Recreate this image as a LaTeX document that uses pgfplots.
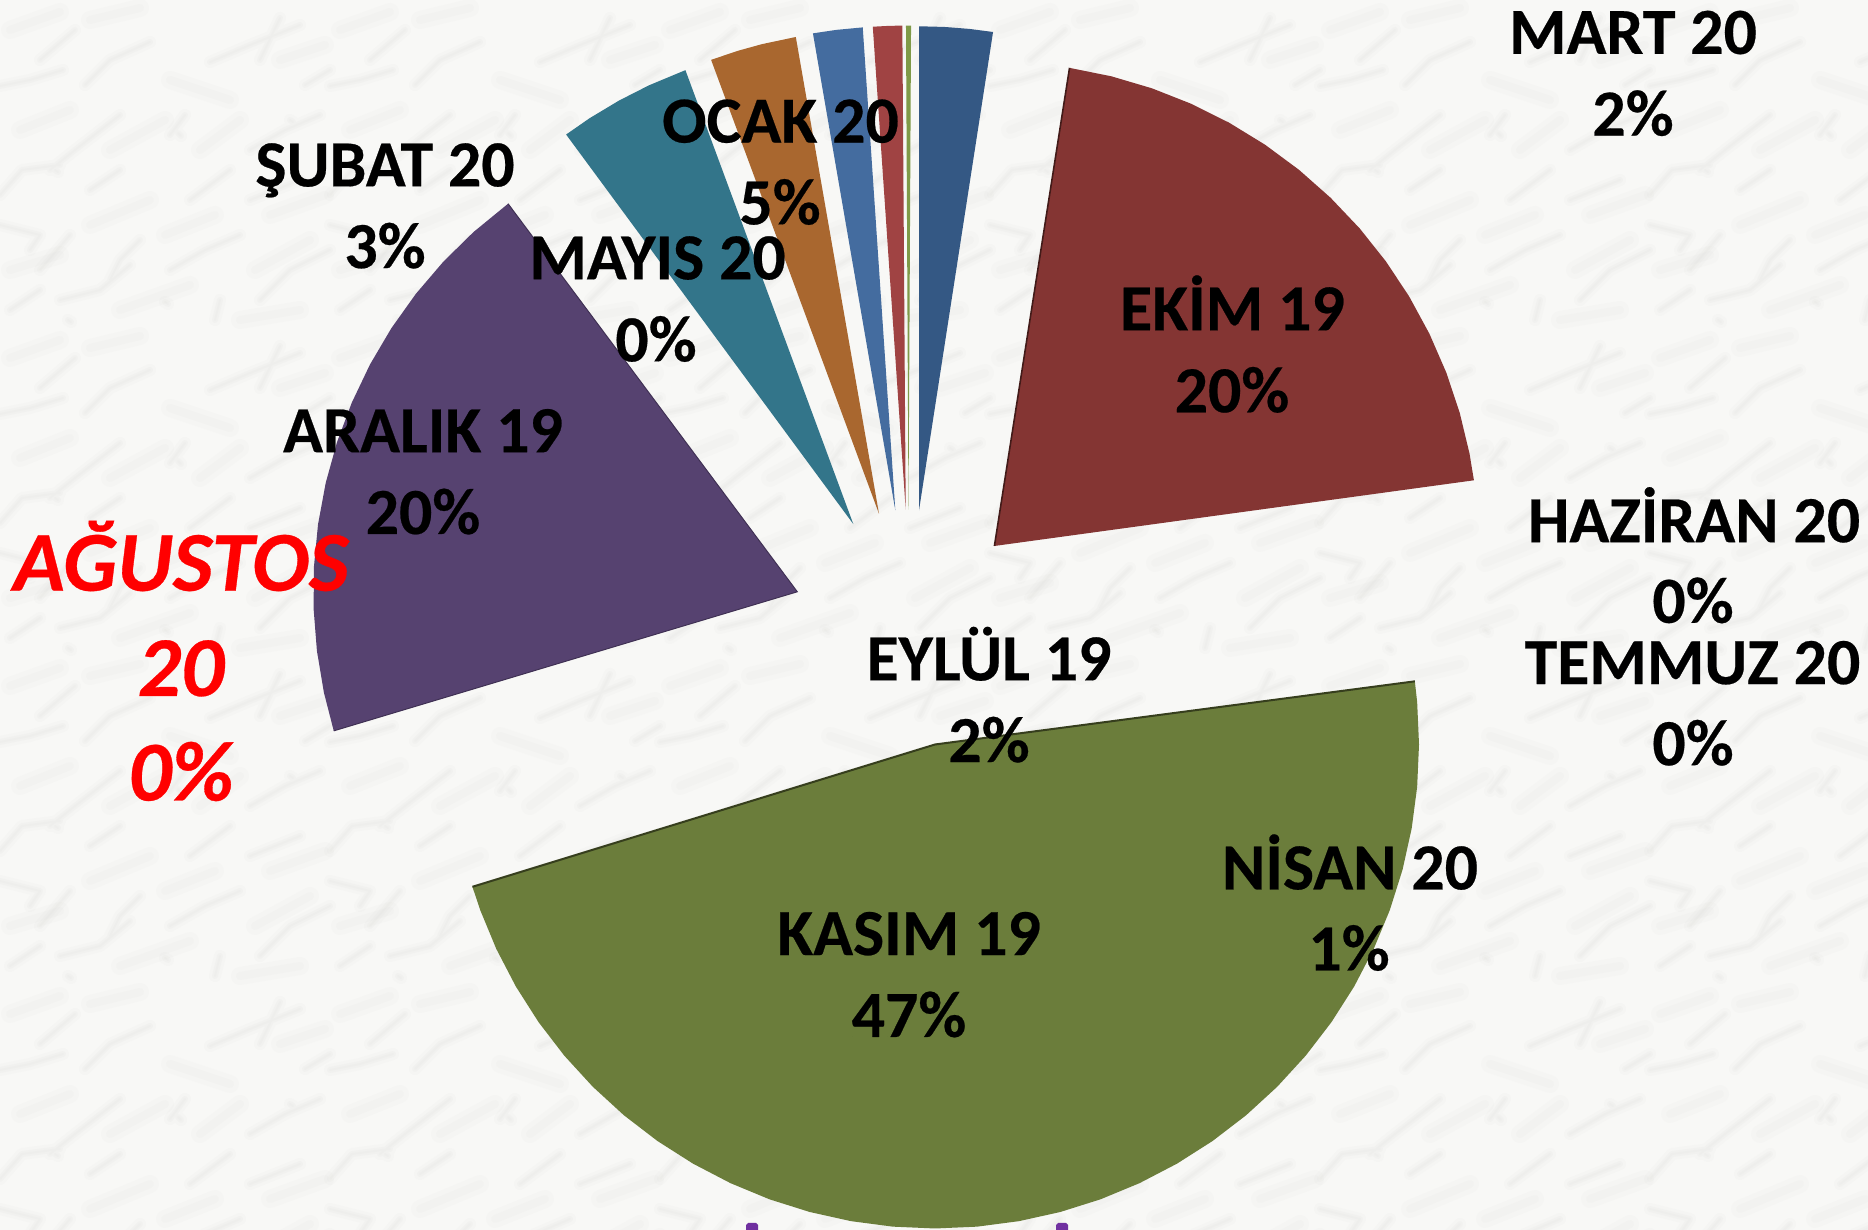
\documentclass[border=0pt]{standalone}
\usepackage{pgfplots}
\pgfplotsset{compat=1.18}
\usepackage{fontspec}
\setmainfont{Carlito}[BoldFeatures={FakeBold=0.35},BoldItalicFeatures={FakeBold=0.35}]
\definecolor{bgbase}{HTML}{F8F8F6}
\definecolor{vein}{HTML}{C9C9C4}
\definecolor{cnavy}{HTML}{345884}
\definecolor{cmaroon}{HTML}{843533}
\definecolor{colive}{HTML}{6B7D3B}
\definecolor{cpurple}{HTML}{564270}
\definecolor{cteal}{HTML}{33758A}
\definecolor{corange}{HTML}{A9672F}
\definecolor{cblue}{HTML}{446C9F}
\definecolor{cred}{HTML}{A04343}
\definecolor{cgreen}{HTML}{7F9A48}
\definecolor{cdot}{HTML}{7030A0}
\newcommand{\veins}{%
 \draw (0,86)--(30,80)--(63,70) (40,60)--(75,30) (150,42)--(110,60)--(85,85)
  (260,60)--(280,18) (210,62)--(250,45)--(300,25) (305,85)--(330,70)
  (0,195)--(22,170)--(60,165) (50,170)--(75,150)--(120,115) (170,135)--(185,115)
  (250,150)--(285,130)--(320,115) (0,225)--(40,235)--(30,250)
  (140,240)--(120,260)--(110,280) (40,270)--(70,235) (170,270)--(205,250)--(240,235)
  (260,300)--(290,270)--(330,250) (60,300)--(100,290)--(130,265) (220,300)--(215,320)
  (250,200)--(300,180) (120,170)--(90,190) (190,200)--(230,170) (10,310)--(40,290)
  (178,133)--(181,136) (55,170)--(58,172) (290,120)--(293,122) (165,302)--(168,304) (68,320)--(71,322);}
\newcommand{\blotches}{%
 \draw (10,30)--(60,12) (90,20)--(140,8) (170,80)--(230,100) (20,130)--(70,110)
  (110,150)--(165,120) (200,150)--(240,120) (280,60)--(325,45) (10,270)--(60,255)
  (90,225)--(150,200) (165,235)--(215,215) (255,270)--(310,240) (120,310)--(190,285)
  (240,320)--(300,310) (270,215)--(325,195);}
\newcommand{\tile}{%
 \begin{scope}[draw=vein,line cap=round,line join=round]
  \begin{scope}[line width=9pt,opacity=.05]\blotches\end{scope}
  \begin{scope}[line width=4pt,opacity=.06]\blotches\end{scope}
  \begin{scope}[line width=6pt,opacity=.06]\veins\end{scope}
  \begin{scope}[line width=3pt,opacity=.07]\veins\end{scope}
  \begin{scope}[line width=1pt,opacity=.06]\veins\end{scope}
 \end{scope}}
\newcommand{\lab}[3]{\node[anchor=base,inner sep=0pt,yshift=-0.7pt,text=black,font=\fontsize{32.9}{39}\selectfont\bfseries] at (axis cs:#1,#2) {#3};}
\newcommand{\labr}[3]{\node[anchor=base,inner sep=0pt,text=red,font=\fontsize{42.6}{52}\selectfont\bfseries\itshape] at (axis cs:#1,#2) {#3};}
\begin{document}
\begin{tikzpicture}
\useasboundingbox (0,0) rectangle (934pt,615pt);
\fill[bgbase] (0,0) rectangle (934pt,615pt);
\begin{scope}
\clip (0,0) rectangle (934pt,615pt);
\begin{scope}[shift={(0,615pt)},x=0.5pt,y=-0.5pt]
\foreach \i in {0,...,5}{\foreach \j in {0,...,3}{
  \begin{scope}[shift={(330*\i,328*\j)}]\tile\end{scope}}}
\end{scope}
\end{scope}
\begin{axis}[at={(0,0)},anchor=south west,scale only axis,width=934pt,height=615pt,
  xmin=0,xmax=1868,ymin=0,ymax=1230,hide axis,clip=false]
% NAVY (MART 20)
\addplot[fill=cnavy,draw=none,data cs=polar,shift={(axis direction cs:919,719.7)}] coordinates {(0,0) (90,484) (87,484) (84,484) (81.2,484)} -- cycle;
% EKIM 19
\addplot[fill=cmaroon,draw=none,data cs=polar,shift={(axis direction cs:994.4,684)}] coordinates {(0,0) (81.07,484) (76,484) (71,484) (66,484) (61,484) (56,484) (51,484) (46,484) (41,484) (36,484) (31,484) (26,484) (21,484) (16,484) (11,484) (7.8,484)} -- cycle;
\addplot[draw=black!50!cmaroon,line width=.8pt,data cs=polar,shift={(axis direction cs:994.4,684)}] coordinates {(81.07,484) (0,0)};
% KASIM 19
\addplot[fill=colive,draw=none,data cs=polar,shift={(axis direction cs:935,485.5)}] coordinates {(0,0) (7.5,484) (5,484) (0,484) (-5,484) (-10,484) (-15,484) (-20,484) (-25,484) (-30,484) (-35,484) (-40,484) (-45,484) (-50,484) (-55,484) (-60,484) (-65,484) (-70,484) (-75,484) (-80,484) (-85,484) (-90,484) (-95,484) (-100,484) (-105,484) (-110,484) (-115,484) (-120,484) (-125,484) (-130,484) (-135,484) (-140,484) (-145,484) (-150,484) (-155,484) (-160,484) (-162.9,484)} -- cycle;
\addplot[draw=black!50!colive,line width=1pt,data cs=polar,shift={(axis direction cs:935,485.5)}] coordinates {(7.5,484) (0,0) (-162.9,484)};
% ARALIK 19
\addplot[fill=cpurple,draw=none,data cs=polar,shift={(axis direction cs:797.3,638.2)}] coordinates {(0,0) (-163.3,484) (-168,484) (-173,484) (-178,484) (-183,484) (-188,484) (-193,484) (-198,484) (-203,484) (-208,484) (-213,484) (-218,484) (-223,484) (-228,484) (-233.3,484)} -- cycle;
\addplot[draw=black!25!cpurple,line width=.5pt,data cs=polar,shift={(axis direction cs:797.3,638.2)}] coordinates {(-163.3,484) (0,0) (-233.3,484)};
% SUBAT 20 / OCAK 20 / etc.
\addplot[fill=cteal,draw=none,data cs=polar,shift={(axis direction cs:853.3,705.9)}] coordinates {(0,0) (-233.6,484) (-237,484) (-241,484) (-245,484) (-249.7,484)} -- cycle;
\addplot[fill=corange,draw=none,data cs=polar,shift={(axis direction cs:879,716.2)}] coordinates {(0,0) (-249.7,484) (-253,484) (-256,484) (-260.1,484)} -- cycle;
\addplot[fill=cblue,draw=none,data cs=polar,shift={(axis direction cs:895.3,719.7)}] coordinates {(0,0) (-260.2,484) (-263,484) (-266.14,484)} -- cycle;
\addplot[fill=cred,draw=none,data cs=polar,shift={(axis direction cs:905.7,720.4)}] coordinates {(0,0) (-266.1,484) (-268,484) (-269.6,484)} -- cycle;
\addplot[fill=cgreen,draw=none,data cs=polar,shift={(axis direction cs:908.5,720.4)}] coordinates {(0,0) (-269.7,484) (-270.3,484)} -- cycle;
% clipped letter dots at the lower edge
\addplot[fill=cdot,draw=none] coordinates {(746,0) (746,5) (748,7) (756,7) (758,5) (758,0)} -- cycle;
\addplot[fill=cdot,draw=none] coordinates {(1056,0) (1056,5) (1058,7) (1066,7) (1068,5) (1068,0)} -- cycle;
% labels: x centre, baseline (height above the lower edge)
\lab{1633}{1177.5}{MART 20}\lab{1633}{1095.8}{2\%}
\lab{1694}{689.2}{HAZİRAN 20}\lab{1693}{608.6}{0\%}
\lab{1692.5}{547.3}{TEMMUZ 20}\lab{1693}{466.2}{0\%}
\lab{1232.4}{901}{EKİM 19}\lab{1232}{819.1}{20\%}
\lab{780.5}{1088.8}{OCAK 20}\lab{780}{1007}{5\%}
\lab{657.5}{952}{MAYIS 20}\lab{656}{870}{0\%}
\lab{385}{1045}{ŞUBAT 20}\lab{385}{963.3}{3\%}
\lab{423}{779.2}{ARALIK 19}\lab{423}{697.4}{20\%}
\lab{989}{551}{EYLÜL 19}\lab{989}{469.3}{2\%}
\lab{1350}{342}{NİSAN 20}\lab{1349}{261}{1\%}
\lab{909}{276.3}{KASIM 19}\lab{909}{194.5}{47\%}
\labr{181}{639.3}{AĞUSTOS}\labr{181}{534}{20}\labr{181}{429.5}{0\%}
\end{axis}
\end{tikzpicture}
\end{document}
